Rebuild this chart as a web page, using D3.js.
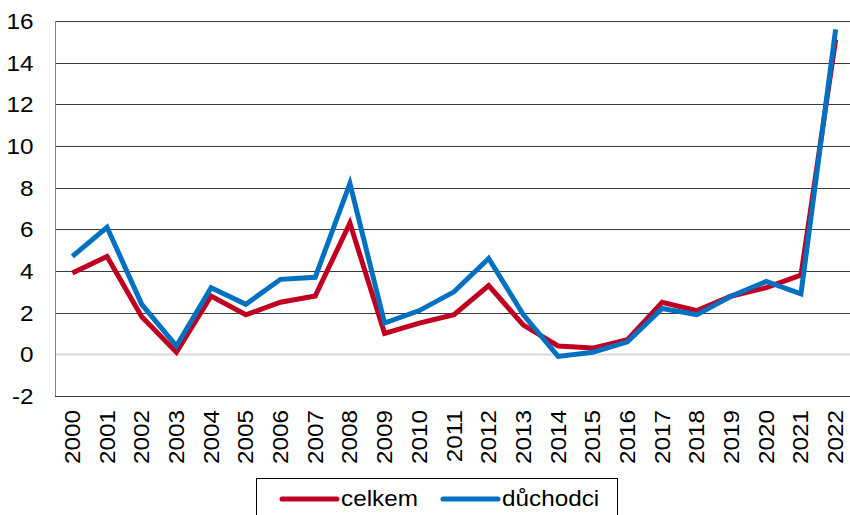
<!DOCTYPE html>
<html><head><meta charset="utf-8">
<script src="https://cdn.jsdelivr.net/npm/d3@7"></script>
<style>body{margin:0;background:#fff}svg{display:block}text{font-family:"Liberation Sans",Arial,sans-serif}</style>
</head><body><svg id="c" width="850" height="515"></svg>
<script>
const years = ["2000","2001","2002","2003","2004","2005","2006","2007","2008","2009","2010","2011","2012","2013","2014","2015","2016","2017","2018","2019","2020","2021","2022"];
const celkem = [3.9,4.7,1.8,0.1,2.8,1.9,2.5,2.8,6.3,1.0,1.5,1.9,3.3,1.4,0.4,0.3,0.7,2.5,2.1,2.8,3.2,3.8,15.1];
const duchodci = [4.7,6.1,2.4,0.4,3.2,2.4,3.6,3.7,8.2,1.5,2.1,3.0,4.6,1.9,-0.1,0.1,0.6,2.2,1.9,2.8,3.5,2.9,15.6];
const yTicks = [-2,0,2,4,6,8,10,12,14,16];
const seriesNames = ["celkem","důchodci"];
const colors = ["#c00020","#0070c0"];

const FS = 21.5, SX = 1.13;
const svg = d3.select("#c");
const L = 55, R = 853, T = 21, B = 396;
const x = d3.scaleBand().domain(years).range([L, R]);
const y = d3.scaleLinear().domain([-2, 16]).range([B, T]);

// gridlines
svg.append("g").selectAll("line").data(yTicks.filter(d => d !== -2)).join("line")
  .attr("x1", L).attr("x2", R)
  .attr("y1", d => Math.round(y(d)) + 0.5).attr("y2", d => Math.round(y(d)) + 0.5)
  .attr("stroke", d => d === 0 ? "#d9d9d9" : "#3a3a3a").attr("stroke-width", d => d === 0 ? 2 : 1);

// axes
const ya = svg.append("g").attr("transform", `translate(${L + 0.5},0)`)
  .call(d3.axisLeft(y).tickValues(yTicks).tickSize(0).tickFormat(d => String(d)));
ya.select(".domain").attr("stroke", "#808080").attr("d", `M0,${T}V${B}`);
ya.selectAll("text").attr("font-size", FS).attr("fill", "#000").attr("x", 0).attr("dy", "0.35em")
  .attr("text-anchor", "end").attr("transform", `translate(-22,0) scale(${SX},1)`);

svg.append("line").attr("x1", L).attr("x2", R).attr("y1", B + 0.5).attr("y2", B + 0.5).attr("stroke", "#3a3a3a");

const xa = svg.append("g").attr("transform", `translate(0,${B})`)
  .call(d3.axisBottom(x).tickSize(0).tickPadding(0));
xa.select(".domain").remove();
xa.selectAll("text").attr("font-size", FS).attr("fill", "#000")
  .attr("text-anchor", "end").attr("x", 0).attr("y", 0).attr("dy", "0.35em")
  .attr("transform", `rotate(-90) translate(-14,0) scale(${SX},1)`);

const line = d3.line().x((d, i) => x(years[i]) + x.bandwidth() / 2).y(d => y(d));
[celkem, duchodci].forEach((s, k) => {
  svg.append("path").datum(s).attr("d", line).attr("fill", "none")
    .attr("stroke", colors[k]).attr("stroke-width", 5).attr("stroke-linejoin", "miter").attr("stroke-linecap", "butt");
});

// legend
const lg = svg.append("g");
lg.append("rect").attr("x", 256.5).attr("y", 478.5).attr("width", 361).attr("height", 50)
  .attr("fill", "#fff").attr("stroke", "#000");
const lx = [282, 443];
seriesNames.forEach((n, k) => {
  lg.append("line").attr("x1", lx[k]).attr("x2", lx[k] + 55).attr("y1", 499).attr("y2", 499)
    .attr("stroke", colors[k]).attr("stroke-width", 5).attr("stroke-linecap", "round");
  lg.append("text").attr("transform", `translate(${lx[k] + 59},506) scale(${SX},1)`)
    .attr("font-size", FS).text(n);
});
</script></body></html>
